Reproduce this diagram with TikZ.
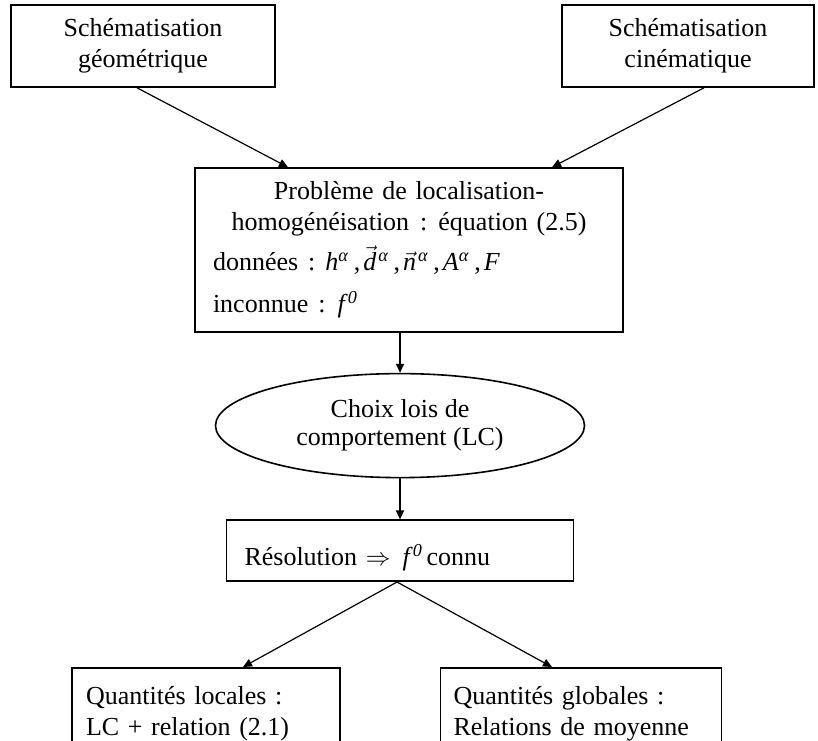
\documentclass[tikz,border=0pt]{standalone}
\usepackage{amsmath}
\usepackage{fontspec}
\setmainfont{Liberation Serif}
\usepackage{tikz}
\usetikzlibrary{arrows.meta,positioning,shapes.geometric}

\newcommand{\sy}[1]{\textit{#1}\textsuperscript{\textit{α}}}

\begin{document}
\begin{tikzpicture}[
  x=1pt,y=1pt,
  box/.style={draw=black,line width=1.6pt,inner sep=0pt,font=\fontsize{26}{31}\selectfont},
  topbox/.style={box,align=center,minimum width=#1,minimum height=82pt},
  oval/.style={ellipse,draw=black,line width=1.6pt,inner sep=0pt,align=center,minimum width=369pt,minimum height=104pt,font=\fontsize{26}{28}\selectfont},
  result/.style={box,align=left,minimum height=91pt},
  arrow/.style={-{Triangle[length=9pt,width=8pt]},line width=1.2pt,draw=black}
]
\useasboundingbox (0,0) rectangle (818,-740);
\node[topbox=264pt] (geo) at (143,-46) {Schématisation\\géométrique};
\node[topbox=252pt] (cin) at (688,-46) {Schématisation\\cinématique};
\node[box,text width=392pt,inner xsep=18pt,minimum height=164pt,align=left] (prob) at (409,-250)
  {{\centering Problème de localisation-\\homogénéisation\hspace{11pt}:\hspace{11pt}équation (2.5)\par}\vspace{9pt}
   \noindent données\hspace{10pt}:\hspace{10pt}\sy{h}\hspace{5pt},\kern3pt$\vec{\textit{d}}$\kern2pt\sy{}\hspace{5pt},\kern3pt$\vec{\textit{n}}$\kern2pt\sy{}\hspace{5pt},\kern3pt\sy{A}\hspace{5pt},\kern3pt\textit{F}\\[11pt]
   inconnue\hspace{10pt}:\hspace{12pt}\textit{f}\textsuperscript{\textit{0}}};
\node[oval,below=40pt of prob,xshift=-9pt] (choix) {Choix lois de\\comportement (LC)};
\node[box,below=41pt of choix,text width=311pt,inner xsep=18pt,minimum height=61pt,text height=34pt,text depth=5pt,align=left] (reso)
  {Résolution $\Rightarrow$\hspace{12pt}\textit{f}\textsuperscript{\textit{0}}\hspace{4pt}connu};
\node[result,below=85pt of reso,xshift=-194pt,text width=240pt,inner xsep=14pt] (loc) {Quantités locales :\\LC + relation (2.1)};
\node[result,below=85pt of reso,xshift=181pt,text width=255pt,inner xsep=13pt] (glob) {Quantités globales :\\Relations de moyenne};
\draw[arrow] ([xshift=-6pt]geo.south) -- ([xshift=-121pt]prob.north);
\draw[arrow] ([xshift=16pt]cin.south) -- ([xshift=143pt]prob.north);
\draw[arrow] (prob.south -| choix.north) -- (choix.north);
\draw[arrow] (choix.south) -- (reso.north);
\draw[arrow] ([xshift=-3pt]reso.south) -- ([xshift=37pt]loc.north);
\draw[arrow] ([xshift=-3pt]reso.south) -- ([xshift=-29pt]glob.north);
\end{tikzpicture}
\end{document}
